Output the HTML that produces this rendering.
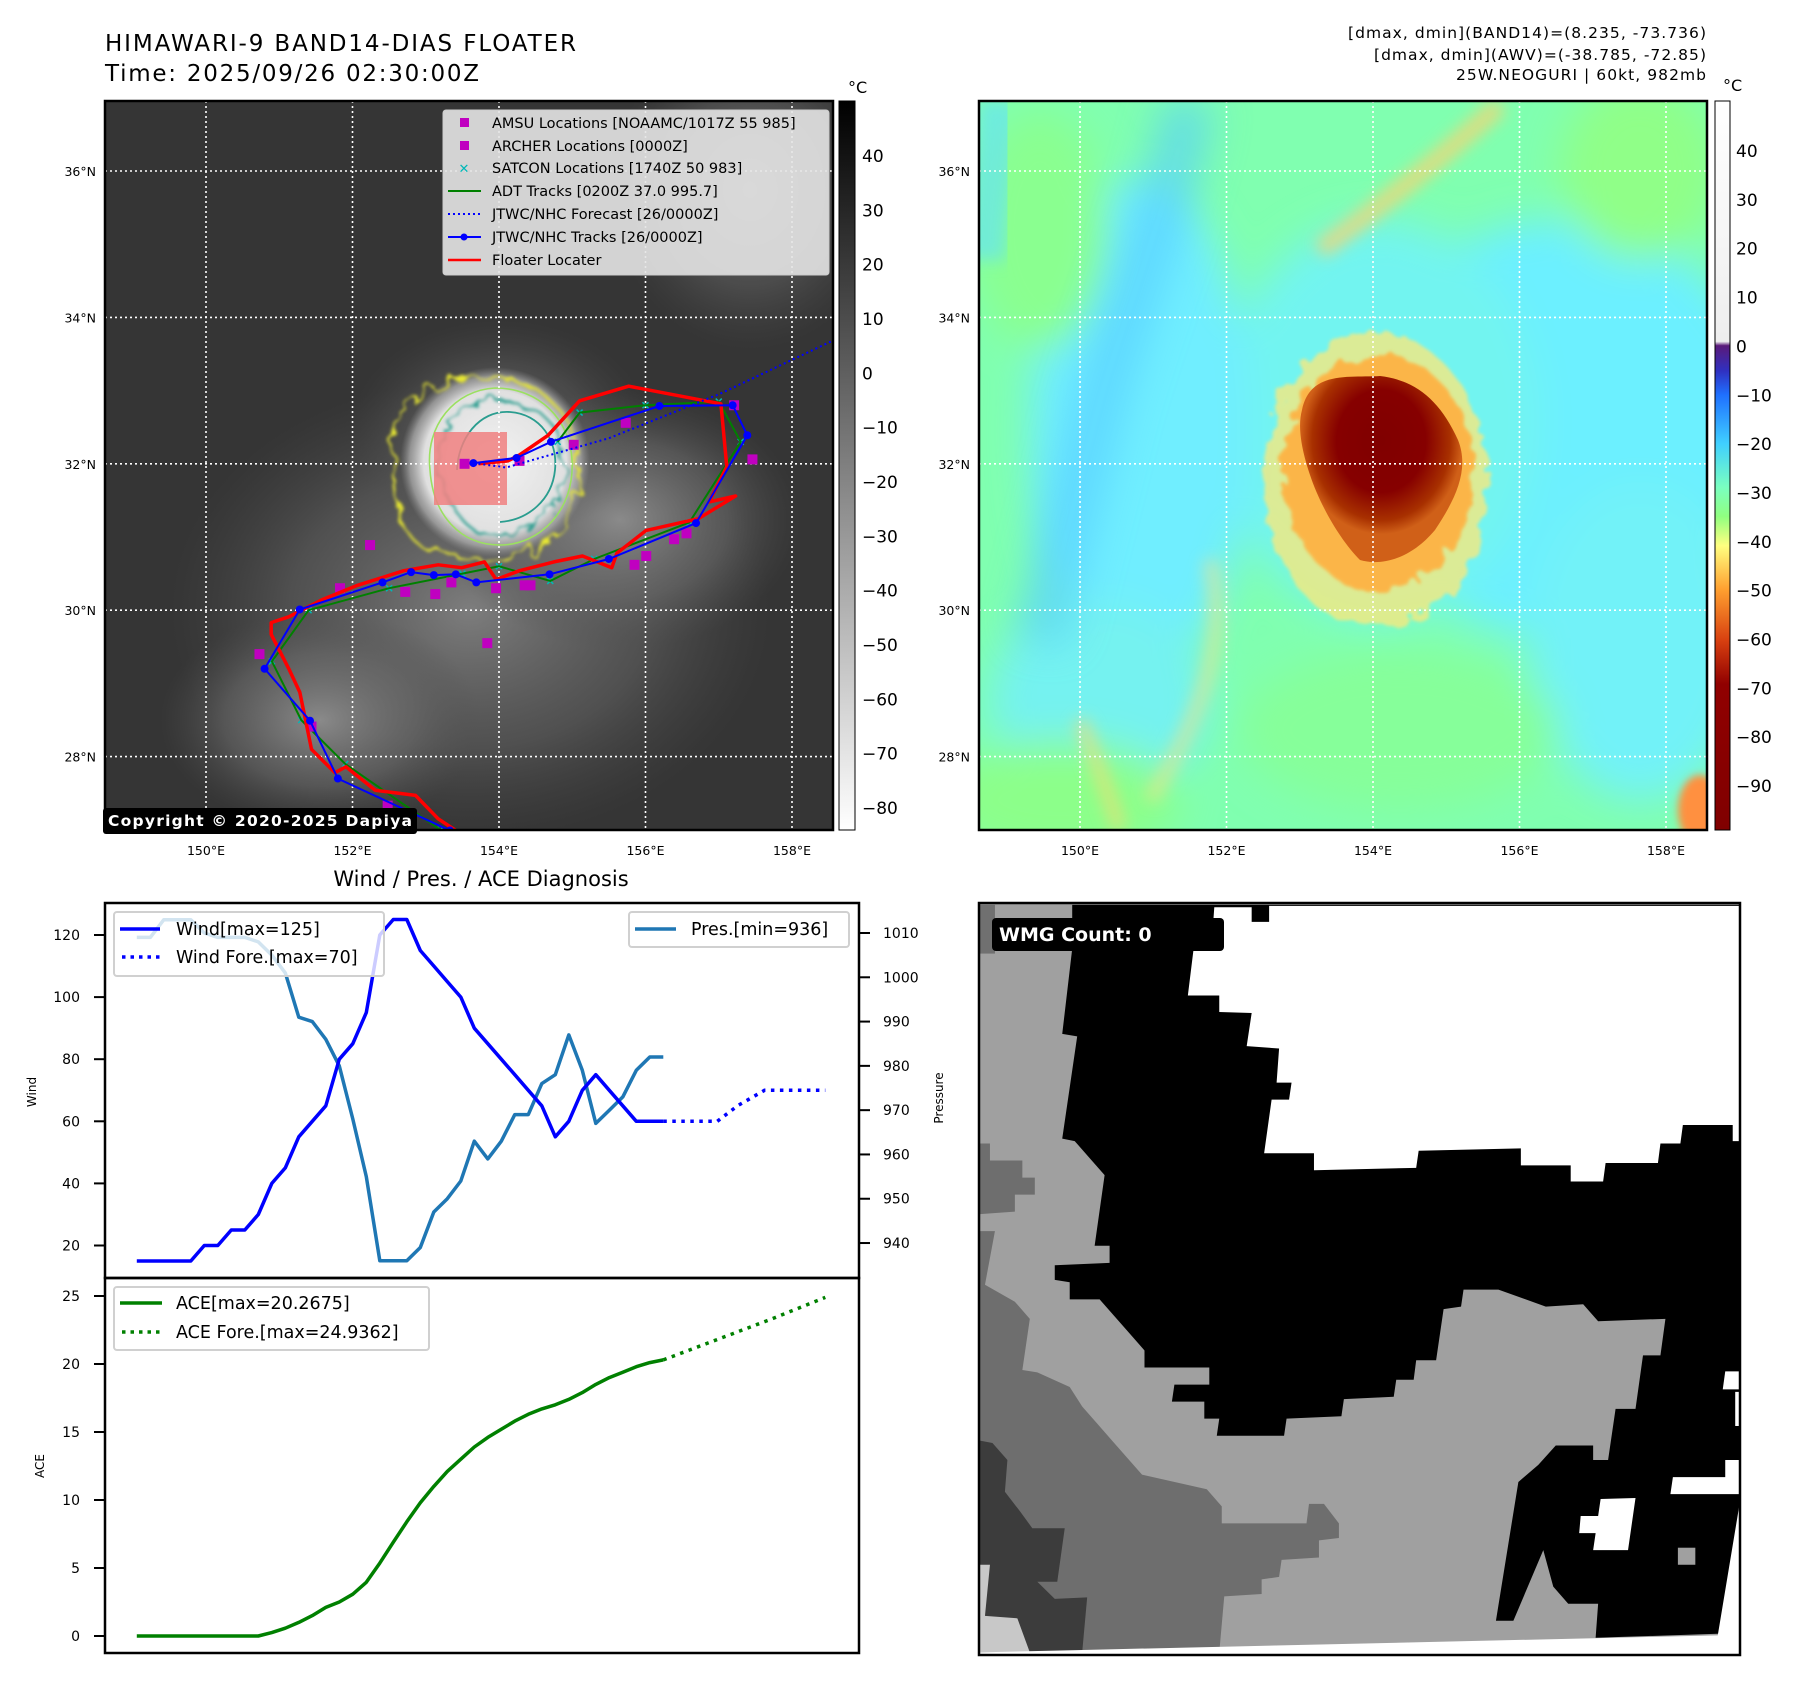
<!DOCTYPE html>
<html><head><meta charset="utf-8">
<style>
html,body{margin:0;padding:0;background:#fff;}
svg{display:block;font-family:"DejaVu Sans","Liberation Sans",sans-serif;}
</style></head>
<body>
<svg id="fig" width="1797" height="1690" viewBox="0 0 1797 1690" xmlns="http://www.w3.org/2000/svg">
<defs>
  <clipPath id="clipL"><rect x="105" y="101" width="728" height="729"/></clipPath>
  <clipPath id="clipR"><rect x="979" y="101" width="728" height="729"/></clipPath>
  <clipPath id="clipB"><rect x="979" y="903" width="761" height="752"/></clipPath>
  <filter id="blur8" x="-50%" y="-50%" width="200%" height="200%"><feGaussianBlur stdDeviation="8"/></filter>
  <filter id="blur20" x="-50%" y="-50%" width="200%" height="200%"><feGaussianBlur stdDeviation="20"/></filter>
  <filter id="blur4" x="-50%" y="-50%" width="200%" height="200%"><feGaussianBlur stdDeviation="4"/></filter>
  <filter id="rag" x="-30%" y="-30%" width="160%" height="160%">
    <feTurbulence type="fractalNoise" baseFrequency="0.06" numOctaves="2" seed="3" result="n"/>
    <feDisplacementMap in="SourceGraphic" in2="n" scale="22"/>
    <feGaussianBlur stdDeviation="1.5"/>
  </filter>
  <radialGradient id="stormL"><stop offset="0" stop-color="#f2f2f2"/><stop offset="0.75" stop-color="#e0e0e0"/><stop offset="0.9" stop-color="#b0b0b0" stop-opacity="0.7"/><stop offset="1" stop-color="#909090" stop-opacity="0"/></radialGradient>
  <radialGradient id="cloudL"><stop offset="0" stop-color="#8a8a8a"/><stop offset="0.6" stop-color="#6a6a6a" stop-opacity="0.6"/><stop offset="1" stop-color="#505050" stop-opacity="0"/></radialGradient>
  <radialGradient id="coreR" cx="0.5" cy="0.35"><stop offset="0" stop-color="#800000"/><stop offset="0.55" stop-color="#860000"/><stop offset="0.85" stop-color="#a83000"/><stop offset="1" stop-color="#d06018"/></radialGradient>
  <linearGradient id="cbL" x1="0" y1="0" x2="0" y2="1"><stop offset="0" stop-color="#000"/><stop offset="1" stop-color="#fff"/></linearGradient>
  <linearGradient id="cbR" x1="0" y1="0" x2="0" y2="1">
    <stop offset="0" stop-color="#ffffff"/><stop offset="0.33" stop-color="#eeeeee"/>
    <stop offset="0.3356" stop-color="#5a1a7a"/><stop offset="0.37" stop-color="#3030c0"/>
    <stop offset="0.403" stop-color="#1f70ff"/><stop offset="0.47" stop-color="#40d0ff"/>
    <stop offset="0.53" stop-color="#7affc0"/><stop offset="0.57" stop-color="#90ff80"/>
    <stop offset="0.61" stop-color="#ffff80"/><stop offset="0.67" stop-color="#ffa030"/>
    <stop offset="0.74" stop-color="#d84010"/><stop offset="0.80" stop-color="#900000"/>
    <stop offset="1" stop-color="#800000"/></linearGradient>
</defs>

<text x="105" y="51" font-size="23" textLength="471">HIMAWARI-9 BAND14-DIAS FLOATER</text>
<text x="105" y="81" font-size="23" textLength="374">Time: 2025/09/26 02:30:00Z</text>
<g font-size="15.5" text-anchor="end">
  <text x="1706" y="38" textLength="358">[dmax, dmin](BAND14)=(8.235, -73.736)</text>
  <text x="1706" y="60" textLength="332">[dmax, dmin](AWV)=(-38.785, -72.85)</text>
  <text x="1706" y="80" textLength="250">25W.NEOGURI | 60kt, 982mb</text>
</g>

<!-- LEFT MAP -->
<g clip-path="url(#clipL)">
  <rect x="105" y="101" width="728" height="729" fill="#353535"/>
  <ellipse cx="470" cy="610" rx="300" ry="230" fill="url(#cloudL)" opacity="0.85"/>
  <ellipse cx="620" cy="520" rx="180" ry="130" fill="url(#cloudL)"/>
  <ellipse cx="320" cy="720" rx="160" ry="110" fill="url(#cloudL)"/>
  <ellipse cx="750" cy="190" rx="140" ry="160" fill="url(#cloudL)" opacity="0.7"/>
  <ellipse cx="500" cy="430" rx="150" ry="110" fill="url(#cloudL)" opacity="0.6"/>
  <circle cx="495" cy="462" r="95" fill="url(#stormL)"/>
  <path d="M392,468 C385,420 420,380 470,378 C520,372 560,395 575,440 C590,490 565,540 530,552 C490,565 450,555 420,545 C398,530 395,500 392,468 Z" fill="none" stroke="#e8e830" stroke-width="2.2" filter="url(#rag)"/>
  <path d="M430,470 C425,425 455,390 495,388 C540,388 570,420 572,460 C575,510 540,545 500,545 C460,545 433,515 430,470 Z" fill="none" stroke="#9be060" stroke-width="1.6"/>
  <path d="M440,465 C440,425 465,398 500,400 C540,402 565,430 565,462 C565,505 535,533 502,536 C468,538 442,505 440,465 Z" fill="none" stroke="#2a9d8f" stroke-width="2.2" filter="url(#rag)"/>
  <path d="M457,470 C458,440 478,410 510,412 C540,414 558,440 555,470 C552,500 528,520 500,522" fill="none" stroke="#2a9d8f" stroke-width="1.8"/>
  <rect x="434" y="432" width="73" height="73" fill="#f08080" opacity="0.85"/>
  <g id="gridL" stroke="#fff" stroke-width="1.6" stroke-dasharray="2,3"></g>
  <g id="tracksL"></g>
</g>
<rect x="105" y="101" width="728" height="729" fill="none" stroke="#000" stroke-width="2.5"/>

<g>
  <rect x="443" y="110" width="386" height="165" rx="3" fill="#e4e4e4" fill-opacity="0.9" stroke="#ccc"/>
  <g font-size="14.5" fill="#000">
    <rect x="460" y="118" width="9" height="9" fill="#c000c0"/><text x="492" y="128">AMSU Locations [NOAAMC/1017Z 55 985]</text>
    <rect x="460" y="141" width="9" height="9" fill="#c000c0"/><text x="492" y="151">ARCHER Locations [0000Z]</text>
    <text x="464" y="173" fill="#00b8b8" font-size="13" text-anchor="middle">✕</text><text x="492" y="173">SATCON Locations [1740Z 50 983]</text>
    <line x1="448" y1="191" x2="481" y2="191" stroke="#008000" stroke-width="2"/><text x="492" y="196">ADT Tracks [0200Z 37.0 995.7]</text>
    <line x1="448" y1="214" x2="481" y2="214" stroke="#0000ff" stroke-width="2" stroke-dasharray="2,3"/><text x="492" y="219">JTWC/NHC Forecast [26/0000Z]</text>
    <line x1="448" y1="237" x2="481" y2="237" stroke="#0000ff" stroke-width="2"/><circle cx="464" cy="237" r="3.5" fill="#0000ff"/><text x="492" y="242">JTWC/NHC Tracks [26/0000Z]</text>
    <line x1="448" y1="260" x2="481" y2="260" stroke="#ff0000" stroke-width="2.5"/><text x="492" y="265">Floater Locater</text>
  </g>
</g>
<g>
  <rect x="103" y="808" width="314" height="26" rx="3" fill="#000"/>
  <text x="108" y="826" font-size="15.5" font-weight="bold" fill="#fff" textLength="304">Copyright © 2020-2025 Dapiya</text>
</g>

<rect x="839" y="101" width="16" height="729" fill="url(#cbL)" stroke="#000" stroke-width="1"/>
<text x="848" y="93" font-size="16">°C</text>
<g id="cbLticks" font-size="17"></g>

<!-- RIGHT MAP -->
<g clip-path="url(#clipR)">
  <rect x="979" y="101" width="728" height="729" fill="#80ffb0"/>
  <g filter="url(#blur20)">
    <ellipse cx="1560" cy="430" rx="210" ry="210" fill="#6cf0ff"/>
    <ellipse cx="1380" cy="420" rx="160" ry="200" fill="#72f4f0"/>
    <ellipse cx="1640" cy="640" rx="110" ry="160" fill="#72f2f8"/>
    <ellipse cx="1140" cy="430" rx="110" ry="250" fill="#70eeff"/>
    <ellipse cx="1040" cy="230" rx="70" ry="120" fill="#8aff90"/>
    <ellipse cx="1100" cy="700" rx="110" ry="100" fill="#74f2f0"/>
    <ellipse cx="1400" cy="730" rx="160" ry="80" fill="#86ff9a"/>
    <ellipse cx="1060" cy="800" rx="120" ry="60" fill="#8cff8a"/>
    <ellipse cx="1640" cy="170" rx="80" ry="90" fill="#90ff88"/>
  </g>
  <path d="M1190,101 C1170,200 1130,300 1100,400 C1080,480 1060,560 1040,640" fill="none" stroke="#55ccff" stroke-width="50" opacity="0.65" filter="url(#blur20)"/>
  <path d="M1000,101 C995,160 990,200 985,260" fill="none" stroke="#62e0ff" stroke-width="40" opacity="0.6" filter="url(#blur8)"/>
  <path d="M1320,250 C1390,200 1450,150 1500,105" fill="none" stroke="#ffd070" stroke-width="18" opacity="0.75" filter="url(#blur8)"/>
  <path d="M1210,560 C1230,640 1200,720 1150,800" fill="none" stroke="#ffe080" stroke-width="14" opacity="0.55" filter="url(#blur8)"/>
  <path d="M1080,720 C1100,770 1110,800 1120,830" fill="none" stroke="#ffd870" stroke-width="14" opacity="0.6" filter="url(#blur8)"/>
  <ellipse cx="1700" cy="810" rx="22" ry="35" fill="#ff9040" filter="url(#blur4)"/>
  <ellipse cx="1375" cy="480" rx="112" ry="148" fill="#ffe878" opacity="0.75" filter="url(#rag)"/>
  <ellipse cx="1378" cy="472" rx="96" ry="118" fill="#ffb040" opacity="0.9" filter="url(#rag)"/>
  <path d="M1302,410 C1310,370 1350,378 1380,376 C1415,380 1440,400 1458,440 C1470,470 1455,500 1435,530 C1410,560 1380,566 1360,560 C1340,540 1320,505 1310,475 C1300,445 1298,425 1302,410 Z" fill="url(#coreR)"/>
  <g id="gridR" stroke="#fff" stroke-width="1.6" stroke-dasharray="2,3"></g>
</g>
<rect x="979" y="101" width="728" height="729" fill="none" stroke="#000" stroke-width="2.5"/>
<rect x="1715" y="101" width="15" height="729" fill="url(#cbR)" stroke="#000" stroke-width="1"/>
<text x="1723" y="91" font-size="16">°C</text>
<g id="cbRticks" font-size="17"></g>
<g id="mapLabels" font-size="12.5"></g>

<!-- BOTTOM RIGHT WMG -->
<g clip-path="url(#clipB)">
  <g transform="translate(975,900) scale(0.4985,0.487)">
    <rect x="0" y="0" width="1560" height="1570" fill="#a0a0a0"/>
    <rect x="10" y="10" width="30" height="100" fill="#707070"/>
    <polygon fill="#6e6e6e" points="10,500 30,500 30,535 95,535 95,570 120,570 120,605 80,605 80,640 10,645"/>
    <polygon fill="#6e6e6e" points="10,680 40,680 20,790 80,825 110,860 95,965 125,970 190,1000 215,1040 245,1075 275,1110 305,1145 335,1180 465,1210 495,1245 495,1280 665,1280 670,1240 700,1240 730,1280 730,1310 690,1315 690,1350 615,1355 610,1390 575,1395 575,1425 500,1430 490,1545 10,1545"/>
    <polygon fill="#3c3c3c" points="10,1110 35,1115 65,1150 60,1215 90,1255 115,1290 180,1290 165,1400 125,1400 160,1435 225,1432 215,1545 10,1545"/>
    <polygon fill="#c8c8c8" points="10,1365 30,1365 20,1470 85,1475 110,1545 10,1545"/>
    <polygon fill="#000" points="195,10 1537,10 1537,1505 1245,1515 1250,1445 1190,1445 1160,1410 1140,1335 1080,1480 1045,1480 1090,1195 1130,1160 1165,1120 1240,1120 1240,1150 1270,1150 1285,1045 1325,1045 1340,935 1375,935 1385,860 1250,865 1220,830 1145,835 1050,800 980,800 975,835 940,840 925,945 885,945 880,985 845,985 840,1020 740,1025 735,1060 625,1065 620,1100 485,1100 490,1065 460,1065 460,1030 395,1030 400,995 470,995 470,960 340,960 340,925 310,890 280,855 250,820 190,820 190,785 160,780 160,750 270,745 270,710 240,710 260,565 230,530 200,495 175,490 205,280 175,275 195,100"/>
    <polygon fill="#fff" points="480,15 555,15 555,45 590,45 590,12 1537,12 1537,495 1520,495 1520,462 1420,462 1415,500 1375,500 1370,540 1265,540 1260,578 1195,578 1195,545 1095,545 1095,510 890,515 885,550 680,555 680,520 580,520 595,410 630,410 635,375 605,375 610,305 545,300 555,232 490,230 490,196 427,196 440,88 475,88"/>
    <rect x="1410" y="1330" width="35" height="35" fill="#a0a0a0"/>
    <polygon fill="#fff" points="1215,1265 1250,1265 1255,1230 1325,1228 1310,1335 1240,1335 1245,1300 1212,1300"/>
    <polygon fill="#fff" points="1400,1185 1505,1185 1505,1150 1540,1150 1540,1220 1395,1220"/>
    <polygon fill="#fff" points="1505,968 1540,968 1540,1005 1500,1005"/>
    <polygon fill="#fff" points="1525,1010 1545,1010 1545,1080 1525,1080"/>
    <polygon fill="#fff" points="215,1540 1490,1510 1537,1220 1560,1220 1560,1570 10,1570 10,1545"/>
  </g>
  <rect x="992" y="918" width="232" height="33" rx="4" fill="#000"/>
  <text x="999" y="941" font-size="19" font-weight="bold" fill="#fff">WMG Count: 0</text>
</g>
<rect x="979" y="903" width="761" height="752" fill="none" stroke="#000" stroke-width="2.5"/>

<!-- BOTTOM LEFT CHARTS -->
<text x="481" y="886" font-size="21" text-anchor="middle">Wind / Pres. / ACE Diagnosis</text>
<g id="windChart"></g>
<g id="aceChart"></g>
<rect x="105" y="903" width="754" height="375" fill="none" stroke="#000" stroke-width="2.5"/>
<rect x="105" y="1278" width="754" height="375" fill="none" stroke="#000" stroke-width="2.5"/>
<text transform="translate(36,1092) rotate(-90)" font-size="12" text-anchor="middle">Wind</text>
<text transform="translate(44,1466) rotate(-90)" font-size="12" text-anchor="middle">ACE</text>
<text transform="translate(943,1098) rotate(-90)" font-size="12" text-anchor="middle">Pressure</text>

<g>
  <rect x="114" y="912" width="270" height="64" rx="3" fill="#fff" fill-opacity="0.8" stroke="#d0d0d0" stroke-width="2"/>
  <line x1="120" y1="929" x2="160" y2="929" stroke="#0000ff" stroke-width="3.5"/>
  <text x="176" y="935" font-size="17.5">Wind[max=125]</text>
  <line x1="122" y1="957" x2="160" y2="957" stroke="#0000ff" stroke-width="3.5" stroke-dasharray="3.5,5"/>
  <text x="176" y="963" font-size="17.5">Wind Fore.[max=70]</text>
</g>
<g>
  <rect x="629" y="912" width="220" height="35" rx="3" fill="#fff" fill-opacity="0.8" stroke="#d0d0d0" stroke-width="2"/>
  <line x1="635" y1="929" x2="676" y2="929" stroke="#1f77b4" stroke-width="3.5"/>
  <text x="691" y="935" font-size="17.5">Pres.[min=936]</text>
</g>
<g>
  <rect x="114" y="1287" width="315" height="63" rx="3" fill="#fff" fill-opacity="0.8" stroke="#d0d0d0" stroke-width="2"/>
  <line x1="120" y1="1303" x2="162" y2="1303" stroke="#008000" stroke-width="3.5"/>
  <text x="176" y="1309" font-size="17.5">ACE[max=20.2675]</text>
  <line x1="122" y1="1332" x2="160" y2="1332" stroke="#008000" stroke-width="3.5" stroke-dasharray="3.5,5"/>
  <text x="176" y="1338" font-size="17.5">ACE Fore.[max=24.9362]</text>
</g>

<script>
const windVals = [15,15,15,15,15,20,20,25,25,30,40,45,55,60,65,80,85,95,120,125,125,115,110,105,100,90,85,80,75,70,65,55,60,70,75,70,65,60,60,60];
const presVals = [1009,1009,1013,1013,1013,1010,1009,1009,1009,1008,1005,1001,991,990,986,980,968,955,936,936,936,939,947,950,954,963,959,963,969,969,976,978,987,979,967,970,973,979,982,982];
const windForeIdx = [39,43,44.5,46.5,51];
const windForeVals = [60,60,65,70,70];
const aceVals = [0,0,0,0,0,0,0,0,0,0,0.25,0.57,1.0,1.5,2.1,2.5,3.07,3.95,5.36,6.9,8.4,9.8,11.0,12.1,13.0,13.9,14.6,15.2,15.8,16.3,16.7,17.0,17.4,17.9,18.5,19.0,19.4,19.8,20.1,20.3];
const aceForeIdx = [39,43,47,51];
const aceForeVals = [20.3,21.8,23.3,24.9];
const windTicks = [20,40,60,80,100,120];
const presTicks = [940,950,960,970,980,990,1000,1010];
const aceTicks = [0,5,10,15,20,25];
const cbLTicks = [40,30,20,10,0,-10,-20,-30,-40,-50,-60,-70,-80];
const cbRTicks = [40,30,20,10,0,-10,-20,-30,-40,-50,-60,-70,-80,-90];
const lonTicks = [150,152,154,156,158];
const latTicks = [36,34,32,30,28];

const jtwcLon = [153.33,151.80,151.42,150.80,151.28,152.41,152.80,153.11,153.41,153.69,154.69,155.50,156.69,157.39,157.19,156.19,154.71,154.24,153.65];
const jtwcLat = [26.99,27.70,28.49,29.20,30.01,30.38,30.52,30.48,30.49,30.38,30.49,30.70,31.19,32.39,32.80,32.79,32.30,32.08,32.01];
const foreLon = [153.65,154.1,155.5,157.0,158.7];
const foreLat = [32.01,31.95,32.35,32.95,33.75];
const adtLon = [153.2,151.9,151.3,150.9,151.4,152.5,153.5,154.0,154.7,155.3,156.6,157.3,157.0,156.0,155.1,154.8];
const adtLat = [27.0,27.9,28.5,29.3,30.0,30.3,30.5,30.6,30.4,30.7,31.2,32.3,32.85,32.8,32.7,32.3];
const floaterLon = [153.41,153.17,152.86,152.31,151.91,151.76,151.44,151.28,151.13,150.89,150.89,151.13,151.60,152.07,152.70,153.17,153.49,153.80,153.96,154.28,154.75,155.14,155.54,155.61,156.01,156.72,157.23,156.87,157.11,157.03,155.77,155.10,154.67,154.28,154.12,153.72];
const floaterLat = [26.99,27.15,27.47,27.54,27.86,27.78,28.10,28.88,29.20,29.67,29.83,29.91,30.15,30.34,30.54,30.62,30.58,30.66,30.42,30.54,30.66,30.74,30.58,30.78,31.09,31.25,31.56,31.48,31.96,32.82,33.06,32.86,32.39,32.12,32.04,32.00];
const amsuLon = [153.53,154.28,155.02,155.73,157.21,157.46,152.24,156.39,156.56,156.01,155.85,154.35,154.43,153.96,153.35,153.13,152.72,151.83,150.73,153.84,151.44,152.48];
const amsuLat = [32.00,32.04,32.26,32.56,32.80,32.06,30.89,30.97,31.05,30.74,30.62,30.34,30.34,30.30,30.38,30.22,30.25,30.30,29.40,29.55,28.41,27.33];

const NS = 'http://www.w3.org/2000/svg';
function mk(tag, attrs, parent){ const e=document.createElementNS(NS,tag); for(const k in attrs) e.setAttribute(k,attrs[k]); parent.appendChild(e); return e; }

const xi = i => 136.8 + i*13.5;
const yWind = v => 935 - (v-120)*3.105;
const yPres = p => 933 + (1010-p)*4.429;
const yAce = v => 1636 - v*13.6;
const lonX = lon => 206 + (lon-150)*73.25;
const latY = lat => 171 + (36-lat)*73.2;
const cbLY = v => 156 + (40-v)*5.433;
const cbRY = v => 151 + (40-v)*4.885;

const wc = document.getElementById('windChart');
const ac = document.getElementById('aceChart');

windTicks.forEach(t=>{
  const y=yWind(t);
  const tk=mk('line',{x1:94,y1:y,x2:105,y2:y,stroke:'#000','stroke-width':2},wc);
  
  
  const lb=mk('text',{x:80,y:y+5,'font-size':14,'text-anchor':'end'},wc);
  lb.textContent=t;
  
  
});
presTicks.forEach(t=>{
  const y=yPres(t);
  const tk=mk('line',{x1:859,y1:y,x2:870,y2:y,stroke:'#000','stroke-width':2},wc);
  
  
  const lb=mk('text',{x:883,y:y+5,'font-size':14},wc);
  lb.textContent=t;
  
  
});
aceTicks.forEach(t=>{
  const y=yAce(t);
  const tk=mk('line',{x1:94,y1:y,x2:105,y2:y,stroke:'#000','stroke-width':2},ac);
  
  
  const lb=mk('text',{x:80,y:y+5,'font-size':14,'text-anchor':'end'},ac);
  lb.textContent=t;
  
  
});

function poly(xs, ys){ return xs.map((x,k)=>x.toFixed(1)+','+ys[k].toFixed(1)).join(' '); }
const idx = windVals.map((_,i)=>i);

const presLine = mk('polyline',{points:poly(idx.map(xi), presVals.map(yPres)),fill:'none',stroke:'#1f77b4','stroke-width':3.5,'stroke-linejoin':'round'},wc);


const windLine = mk('polyline',{points:poly(idx.map(xi), windVals.map(yWind)),fill:'none',stroke:'#0000ff','stroke-width':3.5,'stroke-linejoin':'round'},wc);


const windFore = mk('polyline',{points:poly(windForeIdx.map(xi), windForeVals.map(yWind)),fill:'none',stroke:'#0000ff','stroke-width':3.5,'stroke-dasharray':'3.5,5.5'},wc);



const aceLine = mk('polyline',{points:poly(idx.map(xi), aceVals.map(yAce)),fill:'none',stroke:'#008000','stroke-width':3.5,'stroke-linejoin':'round'},ac);


const aceFore = mk('polyline',{points:poly(aceForeIdx.map(xi), aceForeVals.map(yAce)),fill:'none',stroke:'#008000','stroke-width':3.5,'stroke-dasharray':'3.5,5.5'},ac);



const cbl=document.getElementById('cbLticks');
cbLTicks.forEach(t=>{
  const y=cbLY(t);
  const lb=mk('text',{x:862,y:y+6},cbl);
  lb.textContent=(t<0?'\u2212'+(-t):t);
  
  
});
const cbr=document.getElementById('cbRticks');
cbRTicks.forEach(t=>{
  const y=cbRY(t);
  const lb=mk('text',{x:1736,y:y+6},cbr);
  lb.textContent=(t<0?'\u2212'+(-t):t);
  
  
});

const gL=document.getElementById('gridL'), gR=document.getElementById('gridR'), ml=document.getElementById('mapLabels');
[[gL,0],[gR,874]].forEach(([g,off])=>{
  lonTicks.forEach(lon=>{ const x=lonX(lon)+off; mk('line',{x1:x,y1:101,x2:x,y2:830},g); });
  latTicks.forEach(lat=>{ const y=latY(lat); mk('line',{x1:105+off,y1:y,x2:833+off,y2:y},g); });
  lonTicks.forEach(lon=>{
    const lb=mk('text',{x:lonX(lon)+off,y:855,'text-anchor':'middle'},ml);
    lb.textContent=lon+'°E';
    
    
  });
  latTicks.forEach(lat=>{
    const lb=mk('text',{x:96+off,y:latY(lat)+5,'text-anchor':'end'},ml);
    lb.textContent=lat+'°N';
    
    
  });
});

const tr=document.getElementById('tracksL');
const sat = mk('g',{},tr);


adtLon.forEach((lon,k)=>{ const x=lonX(lon), y=latY(adtLat[k]);
  mk('path',{d:`M${x-3},${y-3}L${x+3},${y+3}M${x-3},${y+3}L${x+3},${y-3}`,stroke:'#00b8b8','stroke-width':1.5},sat); });
const adt = mk('polyline',{points:poly(adtLon.map(lonX), adtLat.map(latY)),fill:'none',stroke:'#008000','stroke-width':2},tr);


const ams = mk('g',{fill:'#c000c0'},tr);


amsuLon.forEach((lon,k)=>{ mk('rect',{x:lonX(lon)-5,y:latY(amsuLat[k])-5,width:10,height:10},ams); });
const fl = mk('polyline',{points:poly(floaterLon.map(lonX), floaterLat.map(latY)),fill:'none',stroke:'#ff0000','stroke-width':3.5,'stroke-linejoin':'round'},tr);


const jt = mk('polyline',{points:poly(jtwcLon.map(lonX), jtwcLat.map(latY)),fill:'none',stroke:'#0000ff','stroke-width':2},tr);


const jtp = mk('g',{fill:'#0000ff'},tr);


jtwcLon.forEach((lon,k)=>{ mk('circle',{cx:lonX(lon),cy:latY(jtwcLat[k]),r:4},jtp); });
const fc = mk('polyline',{points:poly(foreLon.map(lonX), foreLat.map(latY)),fill:'none',stroke:'#0000ff','stroke-width':2,'stroke-dasharray':'2,3'},tr);


</script>
</svg>
</body></html>
